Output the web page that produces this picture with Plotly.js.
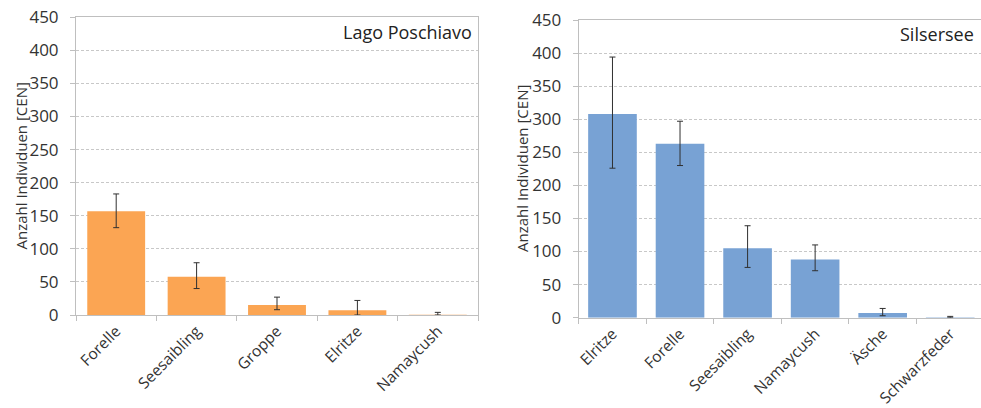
<!DOCTYPE html>
<html>
<head>
<meta charset="utf-8">
<script src="https://cdn.plot.ly/plotly-3.0.1.min.js"></script>
<style>
html,body{margin:0;padding:0;overflow:hidden;background:#fff;}
#chart{width:984px;height:408px;}
</style>
</head>
<body>
<div id="chart"></div>
<script>
// Lago Poschiavo
const catsA = ["Forelle", "Seesaibling", "Groppe", "Elritze", "Namaycush"];
const valsA = [157, 58, 15, 7, 0.5];
const errPlusA = [26, 21, 12, 15, 3.5];
const errMinusA = [25, 18, 7, 7, 0.5];

// Silsersee
const catsB = ["Elritze", "Forelle", "Seesaibling", "Namaycush", "Äsche", "Schwarzfeder"];
const valsB = [308, 263, 105, 88, 7, 0.5];
const errPlusB = [86, 34, 34, 22, 7, 1.5];
const errMinusB = [82, 33, 29, 17, 4, 0.5];

const titleA = "Lago Poschiavo";
const titleB = "Silsersee";
const yTitle = "Anzahl Individuen [CEN]";
const yTicks = [0, 50, 100, 150, 200, 250, 300, 350, 400, 450];

const W = 984, H = 408;
const FONT = "Open Sans, sans-serif";
const TXT = "#333333";

const errStyle = (p, m) => ({type: "data", symmetric: false, array: p, arrayminus: m,
  color: "#303030", thickness: 1, width: 3});

const traces = [
  {type: "bar", x: catsA, y: valsA, xaxis: "x", yaxis: "y",
   marker: {color: "#FBA553", line: {width: 0}}, error_y: errStyle(errPlusA, errMinusA), hoverinfo: "skip"},
  {type: "bar", x: catsB, y: valsB, xaxis: "x2", yaxis: "y2",
   marker: {color: "#78A2D4", line: {width: 0}}, error_y: errStyle(errPlusB, errMinusB), hoverinfo: "skip"}
];

const xAxis = (dom, anchor) => ({
  domain: dom, anchor: anchor, type: "category",
  showline: true, linecolor: "#BFBFBF", linewidth: 1, mirror: true,
  ticks: "outside", tickson: "boundaries", ticklen: 5, tickcolor: "#BFBFBF",
  tickangle: -45, tickfont: {family: FONT, size: 15.5, color: TXT},
  showgrid: false, zeroline: false, fixedrange: true
});
const yAxis = (dom, anchor) => ({
  domain: dom, anchor: anchor, range: [0, 450], tickvals: yTicks,
  showline: true, linecolor: "#BFBFBF", linewidth: 1, mirror: true,
  ticks: "outside", ticklen: 5, tickcolor: "#BFBFBF", ticklabelstandoff: 8,
  tickfont: {family: FONT, size: 17, color: TXT},
  showgrid: true, gridcolor: "#C8C8C8", griddash: "3px,2px", gridwidth: 1,
  zeroline: false, fixedrange: true
});

const layout = {
  width: W, height: H,
  margin: {l: 0, r: 0, t: 0, b: 0},
  paper_bgcolor: "#fff", plot_bgcolor: "#fff",
  showlegend: false, bargap: 0.28,
  font: {family: FONT, color: TXT},
  xaxis: xAxis([76 / W, 478 / W], "y"),
  yaxis: yAxis([(H - 315) / H, (H - 17.3) / H], "x"),
  xaxis2: xAxis([578.7 / W, 1], "y2"),
  yaxis2: yAxis([(H - 317.7) / H, (H - 20) / H], "x2"),
  annotations: [
    {text: titleA, xref: "paper", yref: "paper", x: 474 / W, y: (H - 32) / H,
     xanchor: "right", yanchor: "middle", showarrow: false,
     font: {family: FONT, size: 18, color: "#222222"}},
    {text: titleB, xref: "paper", yref: "paper", x: 976 / W, y: (H - 34) / H,
     xanchor: "right", yanchor: "middle", showarrow: false,
     font: {family: FONT, size: 18, color: "#222222"}},
    {text: yTitle, xref: "paper", yref: "paper", x: 20 / W, y: (H - 166.5) / H,
     xanchor: "center", yanchor: "middle", textangle: -90, showarrow: false,
     font: {family: FONT, size: 15, color: TXT}},
    {text: yTitle, xref: "paper", yref: "paper", x: 522 / W, y: (H - 169) / H,
     xanchor: "center", yanchor: "middle", textangle: -90, showarrow: false,
     font: {family: FONT, size: 15, color: TXT}}
  ]
};

Plotly.newPlot("chart", traces, layout, {staticPlot: true, displayModeBar: false});
</script>
</body>
</html>
